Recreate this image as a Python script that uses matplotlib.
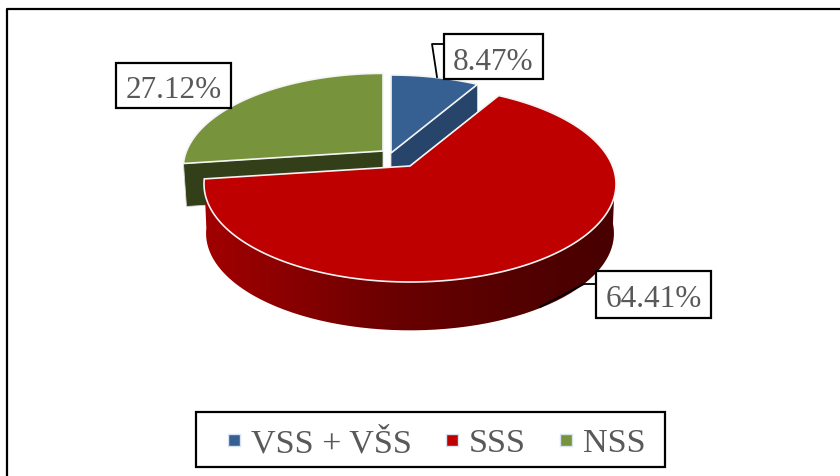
"""3D-look exploded pie of school-level shares, drawn on a pixel-sized canvas."""

import matplotlib
matplotlib.use("Agg")

import matplotlib.pyplot as plt
import numpy as np
from matplotlib.lines import Line2D
from matplotlib.patches import PathPatch, Polygon, Rectangle
from matplotlib.path import Path

plt.rcParams["font.family"] = ["Liberation Serif", "DejaVu Serif"]

categories = ["VSS + VŠS", "SSS", "NSS"]
shares = [8.47, 64.41, 27.12]
labels = ["8.47%", "64.41%", "27.12%"]
top_colors = ["#376092", "#BE0000", "#77933C"]
wall_colors = ["#27446B", "#BE0000", "#333F18"]

TEXT_COLOR = "#595959"
# perspective of the disc: half width, half depth, foreshortening
WIDTH = 202.5
DEPTH = 94.7
PERSP = 0.1837
# apex position, slice scale and wall height for each slice
APEX = [(391, 154), (410, 167), (383, 152)]
SCALE = [0.975, 1.0, 0.97]
WALL = [28, 49.5, 43]
# label boxes as left, top, right, bottom in pixels
LABEL_BOX = [(444, 35, 543, 80), (596, 272, 711, 319), (116, 64, 231, 109)]


def rim(angles_deg, apex, scale, drop=0.0):
    """Project clockwise-from-top angles onto the tilted disc."""
    t = np.radians(angles_deg)
    x, y = np.sin(t), np.cos(t)
    w = 1 + PERSP * y
    return np.column_stack(
        (apex[0] + scale * WIDTH * x / w, apex[1] + drop - scale * DEPTH * y / w)
    )


def red_wall(ax, start, stop, apex, scale, height):
    t = np.linspace(max(start, 95), stop, 200)
    upper = rim(t, apex, scale)
    lower = rim(t, apex, scale * 0.99, height)
    verts = np.vstack((upper, lower[::-1], upper[:1]))
    patch = PathPatch(Path(verts), facecolor="none", edgecolor="none")
    ax.add_patch(patch)
    ramp = np.interp(
        np.linspace(0, 1, 256),
        [0, 0.12, 0.45, 0.75, 1],
        [0.63, 0.58, 0.42, 0.33, 0.28],
    )
    pixels = np.zeros((1, 256, 3))
    pixels[0, :, 0] = ramp
    img = ax.imshow(
        pixels,
        extent=(verts[:, 0].min(), verts[:, 0].max(), 340, 170),
        aspect="auto",
        zorder=2,
        interpolation="bilinear",
    )
    img.set_clip_path(patch)


fig = plt.figure(figsize=(8.4, 4.77), dpi=100)
ax = fig.add_axes([0, 0, 1, 1])

# slice boundaries from the shares, clockwise from 12 o'clock
edges = np.concatenate(([0], np.cumsum(shares) / np.sum(shares) * 360))

for i in (2, 0, 1):
    start, stop = edges[i], edges[i + 1]
    apex, scale, height = APEX[i], SCALE[i], WALL[i]
    arc = rim(np.linspace(start, stop, 200), apex, scale)

    if i == 1:
        red_wall(ax, start, stop, apex, scale, height)
    else:
        # flat cut face towards the viewer
        tip = arc[0] if i == 2 else arc[-1]
        lean = 3 if i == 2 else 0
        face = [apex, tip, (tip[0] + lean, tip[1] + height), (apex[0], apex[1] + height)]
        ax.add_patch(
            Polygon(face, closed=True, facecolor=wall_colors[i], edgecolor="#D8D8D8",
                    linewidth=0.6, zorder=2)
        )

    ax.add_patch(
        Polygon(np.vstack(([apex], arc)), closed=True, facecolor=top_colors[i],
                edgecolor="#F4F4F4", linewidth=1.2, zorder=3)
    )

# label boxes and their leader lines
ax.plot([443, 432, 437], [45, 45, 78], color="black", lw=1.3, zorder=4)
ax.plot([597, 584, 540], [285, 285, 308], color="black", lw=1.3, zorder=4)
for text, (left, top, right, bottom) in zip(labels, LABEL_BOX):
    ax.add_patch(
        Rectangle((left, top), right - left, bottom - top, facecolor="white",
                  edgecolor="black", linewidth=1.6, zorder=5)
    )
    ax.text((left + right) / 2, (top + bottom) / 2 + 1, text, fontsize=22.5, color=TEXT_COLOR,
            ha="center", va="center_baseline", zorder=6)

# outer frame, open at the bottom and on the right
ax.plot([7, 7, 840], [477, 10, 10], color="black", lw=1.6, zorder=1)

# legend box is wider on the left than on the right in the original
ax.add_patch(
    Rectangle((196, 413), 469, 55, facecolor="white", edgecolor="black", linewidth=1.6, zorder=5)
)
handles = [
    Line2D([], [], linestyle="none", marker="s", markersize=8.5, color=c, markeredgecolor="#D8E2F0")
    for c in top_colors
]
legend = ax.legend(
    handles, categories, ncol=3, loc="center", bbox_to_anchor=(437 / 840, 1 - 444 / 477),
    fontsize=24.6, labelcolor=TEXT_COLOR, frameon=False, handlelength=0.35,
    handletextpad=0.32, columnspacing=1.0, borderpad=0.0,
)
legend.set_zorder(6)

ax.set_xlim(0, 840)
ax.set_ylim(477, 0)
ax.axis("off")

fig.savefig("out.png", dpi=100, facecolor="white")
